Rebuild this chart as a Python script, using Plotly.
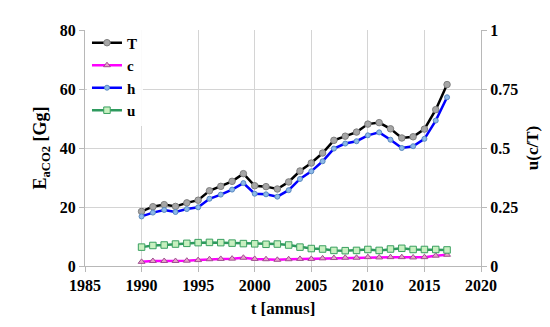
import plotly.graph_objects as go

years = list(range(1990, 2018))
T = [18.5, 20.1, 20.8, 20.2, 21.4, 22.3, 25.5, 27.0, 28.7, 31.3, 27.2, 26.9, 26.1, 28.5,
     32.2, 34.9, 38.3, 42.6, 44.0, 45.4, 48.1, 48.6, 46.5, 43.4, 43.8, 46.4, 53.0, 61.5]
h = [16.8, 18.1, 19.0, 18.3, 19.3, 19.9, 22.8, 24.2, 25.9, 28.1, 24.5, 24.3, 23.5, 25.7,
     29.5, 32.1, 35.5, 39.8, 41.5, 42.3, 44.3, 45.3, 42.8, 40.0, 40.6, 43.1, 49.3, 57.2]
c = [1.4, 1.7, 1.7, 1.7, 1.8, 2.0, 2.3, 2.4, 2.5, 2.8, 2.4, 2.3, 2.1, 2.3,
     2.4, 2.4, 2.6, 2.7, 2.8, 2.8, 3.0, 2.9, 3.0, 3.0, 2.9, 3.0, 3.5, 3.8]
u = [0.080, 0.087, 0.089, 0.093, 0.096, 0.099, 0.100, 0.099, 0.097, 0.095, 0.094, 0.092,
     0.093, 0.089, 0.080, 0.074, 0.072, 0.066, 0.065, 0.066, 0.070, 0.066, 0.072, 0.075,
     0.070, 0.070, 0.070, 0.068]

FONT = "Times New Roman, Liberation Serif, serif"
TICKFONT = dict(family=FONT, size=16, color="black")

fig = go.Figure()
fig.add_trace(go.Scatter(
    x=years, y=T, name="<b>T</b>", mode="lines+markers",
    line=dict(color="black", width=2.5),
    marker=dict(symbol="circle", size=6.5, color="#a6a6a6", line=dict(color="#7f7f7f", width=1))))
fig.add_trace(go.Scatter(
    x=years, y=c, name="<b>c</b>", mode="lines+markers",
    line=dict(color="#ff00ff", width=2.5),
    marker=dict(symbol="triangle-up", size=6, color="#e8a0c8", line=dict(color="#a05090", width=1))))
fig.add_trace(go.Scatter(
    x=years, y=h, name="<b>h</b>", mode="lines+markers",
    line=dict(color="#0000ff", width=2.5),
    marker=dict(symbol="circle", size=5, color="#8cb8e8", line=dict(color="#5a8ac0", width=1))))
fig.add_trace(go.Scatter(
    x=years, y=u, name="<b>u</b>", mode="lines+markers", yaxis="y2",
    line=dict(color="#2e9a5e", width=2.5),
    marker=dict(symbol="square", size=6.5, color="#c8f0c0", line=dict(color="#3aa060", width=1))))

def ax(**kw):
    d = dict(showgrid=True, gridcolor="#d4d4d4", gridwidth=1, showline=True,
             linecolor="#b8b8b8", linewidth=1, ticks="outside", ticklen=5,
             tickcolor="#b8b8b8", zeroline=False, tickfont=TICKFONT,
             tickprefix="<b>", ticksuffix="</b>")
    d.update(kw)
    return d

fig.update_layout(
    width=550, height=327,
    margin=dict(l=77, r=77, t=22, b=69),
    paper_bgcolor="white", plot_bgcolor="white",
    font=dict(family=FONT, size=16, color="black"),
    showlegend=True,
    legend=dict(x=0.005, y=1.015, xanchor="left", yanchor="top", bgcolor="rgba(255,255,255,0.9)",
                font=dict(family=FONT, size=15, color="black"),
                itemwidth=30, tracegroupgap=0),
    xaxis=ax(range=[1985, 2020], dtick=5, tick0=1985,
             title=dict(text="<b>t [annus]</b>", font=dict(family=FONT, size=17), standoff=8)),
    yaxis=ax(range=[0, 80], dtick=20,
             title=dict(text="<b>E<sub>aCO2</sub> [Gg]</b>", font=dict(family=FONT, size=18), standoff=8)),
    yaxis2=ax(range=[0, 1], dtick=0.25, overlaying="y", side="right", showgrid=False,
              title=dict(text="<b>u(c/T)</b>", font=dict(family=FONT, size=17), standoff=8)),
)

fig.write_html("out.html")
